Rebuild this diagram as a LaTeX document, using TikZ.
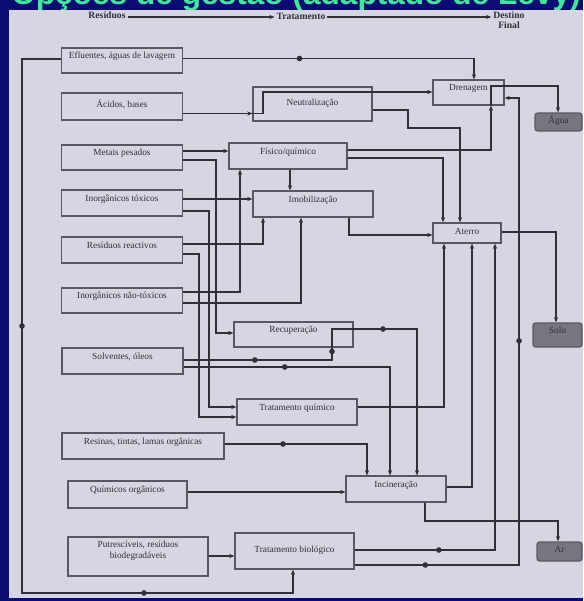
\documentclass[tikz,border=0pt]{standalone}
\usepackage{fontspec}
\setmainfont{Liberation Serif}
\newfontfamily\headfont{Liberation Sans}
\usepackage{tikz}
\usetikzlibrary{calc}
\usetikzlibrary{arrows.meta}

\definecolor{slide}{RGB}{10,12,116}
\definecolor{paper}{RGB}{214,214,226}
\definecolor{ink}{RGB}{48,48,56}
\definecolor{boxline}{RGB}{88,88,98}
\definecolor{sinkfill}{RGB}{118,118,126}
\definecolor{titlegreen}{RGB}{62,232,150}

\begin{document}
\begin{tikzpicture}[x=0.02cm,y=-0.02cm]
\tikzset{>={Stealth[length=3pt,width=2.4pt]}}
\tikzset{box/.style={draw=boxline,fill=paper,line width=0.7pt,inner sep=0pt,text=ink,font=\fontsize{5.3}{6.2}\selectfont}}
\tikzset{up/.style={text height=3.6pt,text depth=5.7pt}}
\tikzset{mid/.style={text height=3.6pt,text depth=2.4pt}}
\tikzset{sink/.style={box,fill=sinkfill,draw=ink!80,rounded corners=1.5pt}}
\tikzset{head/.style={inner sep=1pt,text=ink,font=\bfseries\fontsize{5.5}{5.8}\selectfont}}
\tikzset{flow/.style={draw=ink,line width=0.9pt}}
\tikzset{dot/.style={circle,fill=ink,inner sep=0pt,minimum size=3.2pt}}

\useasboundingbox (0,0) rectangle (583,601);
\fill[slide] (0,0) rectangle (583,601);
\fill[paper] (9,10) rectangle (583,598);
\begin{scope}
\clip (0,0) rectangle (583,10);
\node (title) at (296,5) [anchor=base,text=titlegreen,font=\headfont\bfseries\fontsize{18}{18}\selectfont] {Opções de gestão (adaptado de Levy)};
\end{scope}

% cabecalho
\node (res) at (107,15) [head] {Resíduos};
\node (trat) at (301,16) [head] {Tratamento};
\node (dest) at (509,20) [head,align=center] {Destino\\Final};

% residuos
\node (eflu) at (122,60.5) [box,up,minimum width=2.42cm,minimum height=0.5cm] {Efluentes, águas de lavagem};
\node (acid) at (122,106.5) [box,mid,minimum width=2.42cm,minimum height=0.54cm] {Ácidos, bases};
\node (met) at (122,157.5) [box,up,minimum width=2.42cm,minimum height=0.5cm] {Metais pesados};
\node (itox) at (122,203) [box,up,minimum width=2.42cm,minimum height=0.52cm] {Inorgânicos tóxicos};
\node (reac) at (122,250) [box,up,minimum width=2.42cm,minimum height=0.52cm] {Resíduos reactivos};
\node (inao) at (122,300.5) [box,up,minimum width=2.42cm,minimum height=0.5cm] {Inorgânicos não-tóxicos};
\node (solv) at (122.5,361) [box,up,minimum width=2.42cm,minimum height=0.52cm] {Solventes, óleos};
\node (resi) at (143,446) [box,up,minimum width=3.24cm,minimum height=0.52cm] {Resinas, tintas, lamas orgânicas};
\node (qorg) at (127.5,494.5) [box,up,minimum width=2.38cm,minimum height=0.54cm] {Químicos orgânicos};
\node (putr) at (138,556.5) [box,align=center,minimum width=2.8cm,minimum height=0.78cm] {Putrescíveis, resíduos\\biodegradáveis\\[1.5pt]};

% tratamento
\node (neu) at (312.5,104) [box,mid,minimum width=2.38cm,minimum height=0.68cm] {Neutralização};
\node (fq) at (288,156) [box,up,minimum width=2.36cm,minimum height=0.52cm] {Físico/químico};
\node (imo) at (313,204) [box,up,minimum width=2.4cm,minimum height=0.52cm] {Imobilização};
\node (recu) at (293.5,334.5) [box,up,minimum width=2.38cm,minimum height=0.5cm] {Recuperação};
\node (tq) at (297,412) [box,up,minimum width=2.4cm,minimum height=0.52cm] {Tratamento químico};
\node (inc) at (396,489) [box,up,minimum width=2cm,minimum height=0.52cm] {Incineração};
\node (tb) at (294.5,551) [box,mid,minimum width=2.38cm,minimum height=0.72cm] {Tratamento biológico};

% destino final
\node (dren) at (468.5,92.5) [box,up,minimum width=1.42cm,minimum height=0.5cm] {Drenagem};
\node (ater) at (467,233) [box,mid,minimum width=1.36cm,minimum height=0.4cm] {Aterro};
\node (agua) at (558.5,122) [sink,mid,minimum width=0.94cm,minimum height=0.36cm] {Água};
\node (solo) at (557.5,335) [sink,up,minimum width=0.98cm,minimum height=0.48cm] {Solo};
\node (ar) at (559.5,551.5) [sink,mid,minimum width=0.9cm,minimum height=0.38cm] {Ar};

\draw[flow,->] (res.east |- 0,17) -- (trat.west |- 0,17);
\draw[flow,->] (trat.east |- 0,17) -- (dest.west |- 0,17);

% efluentes
\draw[flow,->] (eflu.east |- 0,58.5) -- node[dot,pos=0.4]{} (474,58.5) -- (474,0 |- dren.north);
\draw[flow,->] (eflu.west |- 0,59) -- (22,59) -- node[dot,pos=0.5]{} (22,593) -- node[dot,pos=0.45]{} (293,593) -- (293,0 |- tb.south);

% acidos
\draw[flow,->] (acid.east |- 0,113.5) -- (neu.west |- 0,113.5);
\draw[flow,->] (neu.west |- 0,113.5) -- (263,113.5) -- (263,92) -- (dren.west |- 0,92);
\draw[flow,->] (neu.east |- 0,110) -- (408,110) -- (408,128) -- (460,128) -- (460,0 |- ater.north);

% metais, inorganicos, reactivos
\draw[flow,->] (met.east |- 0,151) -- (fq.west |- 0,151);
\draw[flow,->] (met.east |- 0,160) -- (216,160) -- (216,333) -- (recu.west |- 0,333);
\draw[flow,->] (itox.east |- 0,199) -- (imo.west |- 0,199);
\draw[flow,->] (itox.east |- 0,211) -- (209,211) -- (209,407) -- (tq.west |- 0,407);
\draw[flow,->] (reac.east |- 0,244) -- (263,244) -- (263,0 |- imo.south);
\draw[flow,->] (reac.east |- 0,254) -- (199,254) -- (199,417) -- (tq.west |- 0,417);
\draw[flow,->] (inao.east |- 0,292) -- (240,292) -- (240,0 |- fq.south);
\draw[flow,->] (inao.east |- 0,303) -- (301,303) -- (301,0 |- imo.south);

% fisico/quimico, imobilizacao
\draw[flow,->] (290,0 |- fq.south) -- (290,0 |- imo.north);
\draw[flow,->] (fq.east |- 0,150) -- (491,150) -- (491,0 |- dren.south);
\draw[flow,->] (fq.east |- 0,158) -- (443,158) -- (443,0 |- ater.north);
\draw[flow,->] (349,0 |- imo.south) -- (349,235) -- (ater.west |- 0,235);

% drenagem, aterro
\draw[flow,->] (491,0 |- dren.south) -- (491,86) -- (558,86) -- (558,0 |- agua.north);
\draw[flow,->] (ater.east |- 0,232) -- (556,232) -- (556,0 |- solo.north);

% solventes, resinas, quimicos
\draw[flow] (solv.east |- 0,360) -- node[dot,pos=0.48]{} (332,360) -- node[dot,pos=0.69]{} (332,0 |- recu.south);
\draw[flow,->] (332,0 |- recu.south) -- (332,329) -- node[dot,pos=0.6]{} (417,329) -- (417,0 |- inc.north);
\draw[flow,->] (solv.east |- 0,367) -- node[dot,pos=0.49]{} (390,367) -- (390,0 |- inc.north);
\draw[flow,->] (resi.east |- 0,444) -- node[dot,pos=0.41]{} (367,444) -- (367,0 |- inc.north);
\draw[flow,->] (qorg.east |- 0,492) -- (inc.west |- 0,492);

% incineracao, tratamento quimico
\draw[flow,->] (inc.east |- 0,487) -- (472,487) -- (472,0 |- ater.south);
\draw[flow,->] (425,0 |- inc.south) -- (425,521) -- (558,521) -- (558,0 |- ar.north);
\draw[flow,->] (tq.east |- 0,407) -- (444,407) -- (444,0 |- ater.south);

% biologico
\draw[flow,->] (putr.east |- 0,556) -- (tb.west |- 0,556);
\draw[flow,->] (tb.east |- 0,550) -- node[dot,pos=0.6]{} (495,550) -- (495,0 |- ater.south);
\draw[flow,->] (tb.east |- 0,565) -- node[dot,pos=0.43]{} (519,565) -- node[dot,pos=0.48]{} (519,98) -- (dren.east |- 0,98);
\end{tikzpicture}
\end{document}
